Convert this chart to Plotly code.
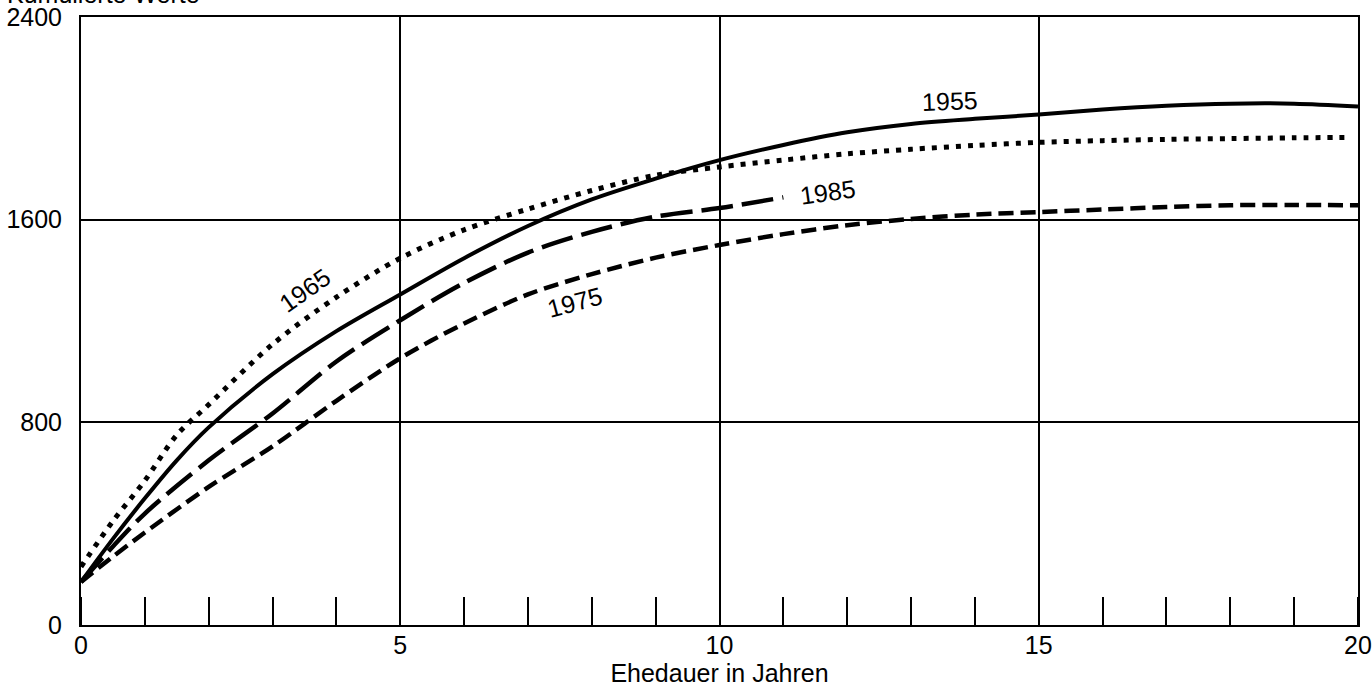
import plotly.graph_objects as go

# Data
x_1955 = [0, 0.5, 1, 1.5, 2, 3, 4, 5, 6, 7, 8, 9, 10, 11, 12, 13, 14, 15, 16, 17, 18, 19, 20]
y_1955 = [170, 340, 500, 650, 780, 990, 1160, 1305, 1448, 1575, 1680, 1762, 1835, 1895, 1945, 1978, 1998, 2015, 2035, 2050, 2058, 2058, 2047]

x_1965 = [0, 0.5, 1, 1.5, 2, 3, 4, 5, 6, 7, 8, 9, 10, 11, 12, 13, 14, 15, 16, 17, 18, 19, 19.9]
y_1965 = [230, 410, 570, 750, 870, 1108, 1294, 1448, 1560, 1642, 1715, 1775, 1808, 1835, 1860, 1878, 1893, 1905, 1912, 1917, 1920, 1923, 1925]

x_1975 = [0, 0.5, 1, 2, 3, 4, 5, 6, 7, 8, 9, 10, 11, 12, 13, 14, 15, 16, 17, 18, 19, 20]
y_1975 = [170, 270, 365, 545, 705, 885, 1053, 1190, 1305, 1385, 1450, 1500, 1543, 1578, 1603, 1620, 1630, 1640, 1650, 1657, 1658, 1657]

x_1985 = [0, 0.5, 1, 2, 3, 4, 5, 6, 7, 8, 9, 10, 11]
y_1985 = [170, 310, 440, 650, 835, 1040, 1203, 1350, 1470, 1552, 1612, 1646, 1688]

x_ticks = [0, 5, 10, 15, 20]
y_ticks = [0, 800, 1600, 2400]

FONT = "Liberation Sans, Arial, Helvetica, sans-serif"

fig = go.Figure()
fig.add_trace(go.Scatter(x=x_1955, y=y_1955, mode="lines", name="1955",
                         line=dict(color="black", width=4, shape="spline", smoothing=0.9)))
fig.add_trace(go.Scatter(x=x_1965, y=y_1965, mode="lines", name="1965",
                         line=dict(color="black", width=5, dash="5px,7px", shape="spline", smoothing=0.9)))
fig.add_trace(go.Scatter(x=x_1975, y=y_1975, mode="lines", name="1975",
                         line=dict(color="black", width=4.5, dash="15px,7px", shape="spline", smoothing=0.9)))
fig.add_trace(go.Scatter(x=x_1985, y=y_1985, mode="lines", name="1985",
                         line=dict(color="black", width=4.5, dash="32px,9px", shape="spline", smoothing=0.9)))

labels = [
    ("1955", 13.61, 2069, -2),
    ("1965", 3.51, 1322, -35),
    ("1975", 7.74, 1275, -15),
    ("1985", 11.70, 1709, -8),
]
for txt, lx, ly, ang in labels:
    fig.add_annotation(x=lx, y=ly, text=txt, showarrow=False, textangle=ang,
                       font=dict(family=FONT, size=25, color="black"))

fig.add_annotation(xref="paper", yref="paper", x=-0.0595, y=1.0115,
                   xanchor="left", yanchor="bottom", text="Kumulierte Werte",
                   showarrow=False, font=dict(family=FONT, size=25, color="black"))

fig.update_layout(
    width=1372, height=687,
    margin=dict(l=81, r=14, t=17, b=62, autoexpand=False),
    paper_bgcolor="white", plot_bgcolor="white",
    showlegend=False,
    font=dict(family=FONT, size=25, color="black"),
    xaxis=dict(
        range=[0, 20], tickvals=x_ticks, ticktext=[str(v) for v in x_ticks],
        showgrid=True, gridcolor="black", gridwidth=1.5,
        showline=True, linecolor="black", linewidth=2, mirror=True,
        ticks="", zeroline=False, ticklabelstandoff=-3, automargin=False,
        minor=dict(dtick=1, ticks="inside", ticklen=28, tickwidth=2, tickcolor="black", showgrid=False),
        title=dict(text="Ehedauer in Jahren", font=dict(family=FONT, size=25), standoff=8),
        tickfont=dict(family=FONT, size=25),
    ),
    yaxis=dict(
        range=[0, 2400], tickvals=y_ticks, ticktext=[str(v) for v in y_ticks],
        showgrid=True, gridcolor="black", gridwidth=1.5,
        showline=True, linecolor="black", linewidth=2, mirror=True,
        ticks="", zeroline=False, ticklabelstandoff=12, automargin=False,
        tickfont=dict(family=FONT, size=25),
    ),
)

fig.write_html(
    "out.html",
    config={"displayModeBar": False},
    post_script="document.body.style.margin='0px';document.body.style.overflow='hidden';",
)
